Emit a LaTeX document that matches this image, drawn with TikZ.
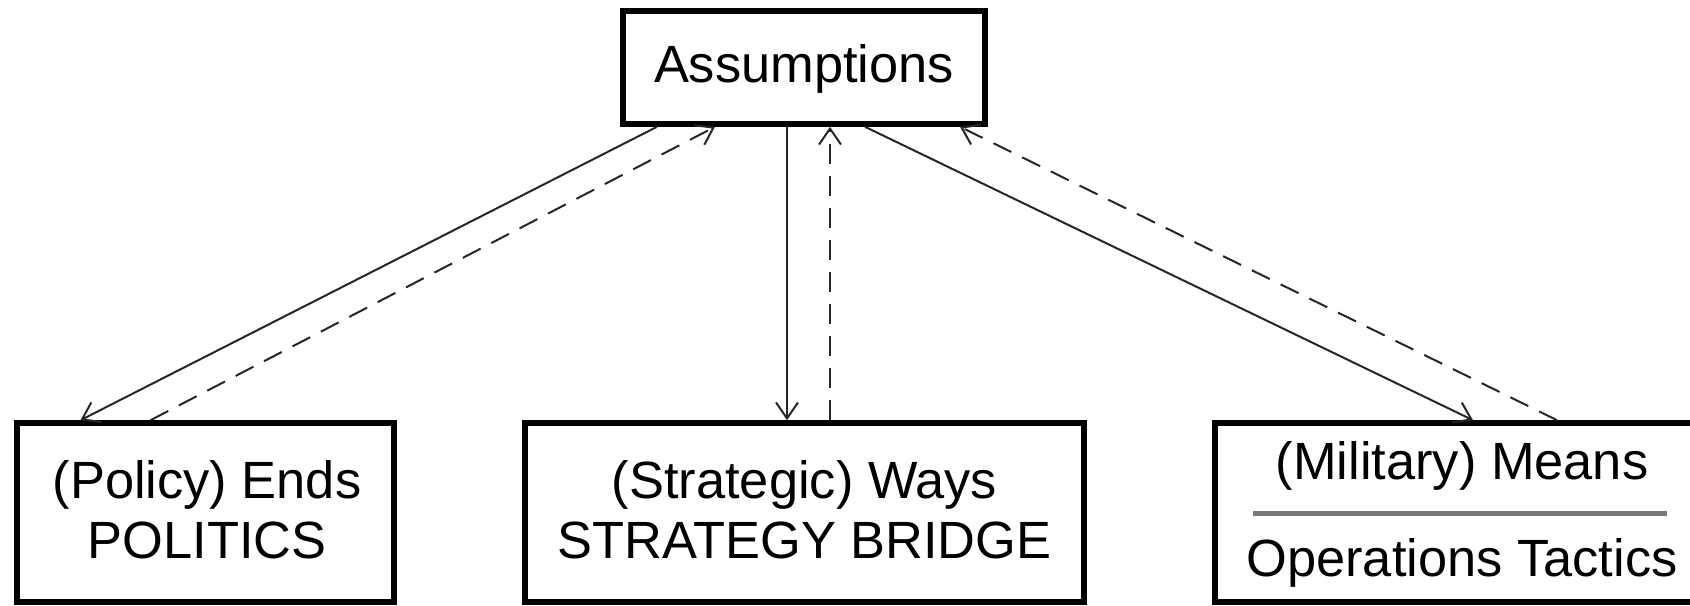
\documentclass[tikz,border=0pt]{standalone}
\usepackage{fontspec}
\setmainfont{Liberation Sans}
\usetikzlibrary{arrows.meta,calc}
\definecolor{sepgray}{RGB}{120,120,120}
\begin{document}
\begin{tikzpicture}[x=0.5pt,y=-0.5pt,
  box/.style={draw=black,line width=2.8pt,inner sep=0pt,fill=white},
  lbl/.style={anchor=base,inner sep=0pt,font=\fontsize{26.2}{30}\selectfont},
  conn/.style={line width=1pt,draw=black!85,-{Straight Barb[length=8pt,width=11pt,line width=1pt]}},
  fb/.style={conn,dash pattern=on 10pt off 6pt},
  sepline/.style={draw=sepgray,line width=2.3pt}]
\useasboundingbox (0,0) rectangle (1690,605);
% boxes
\node[box,minimum width=181pt,minimum height=56.5pt] (ass) at (804,67.5) {};
\node[box,minimum width=188.5pt,minimum height=89.5pt] (ends) at (205.5,512.5) {};
\node[box,minimum width=279.5pt,minimum height=89.5pt] (ways) at (804.5,512.5) {};
\node[box,minimum width=247pt,minimum height=89.5pt] (means) at (1462,512.5) {};
% texts
\node[lbl] (asst) at (804,82.5) {Assumptions};
\node[lbl] (ends1) at (207,498.3) {(Policy) Ends};
\node[lbl] (ends2) at (207,558.3) {POLITICS};
\node[lbl] (ways1) at (804.5,498.3) {(Strategic) Ways};
\node[lbl] (ways2) at (804.5,558.3) {STRATEGY BRIDGE};
\node[lbl] (means1) at (1462,479.3) {(Military) Means};
\node[lbl] (means2) at (1462,576.7) {Operations Tactics};
\coordinate (sepL) at (1253,513.5);
\coordinate (sepR) at (1667,513.5);
\draw[sepline] (sepL) -- (sepR);
% connectors
\draw[conn] ($(ass.south)+(-147,0)$) -- ($(ends.north)+(-125,0)$);
\draw[fb] ($(ends.north)+(-55,0)$) -- ($(ass.south)+(-89,0)$);
\draw[conn] ($(ass.south)+(-17,0)$) -- ($(ways.north)+(-17.5,0)$);
\draw[fb] ($(ways.north)+(25.5,0)$) -- ($(ass.south)+(26,0)$);
\draw[conn] ($(ass.south)+(61,0)$) -- ($(means.north)+(11,0)$);
\draw[fb] ($(means.north)+(95,0)$) -- ($(ass.south)+(156,0)$);
\end{tikzpicture}
\end{document}
